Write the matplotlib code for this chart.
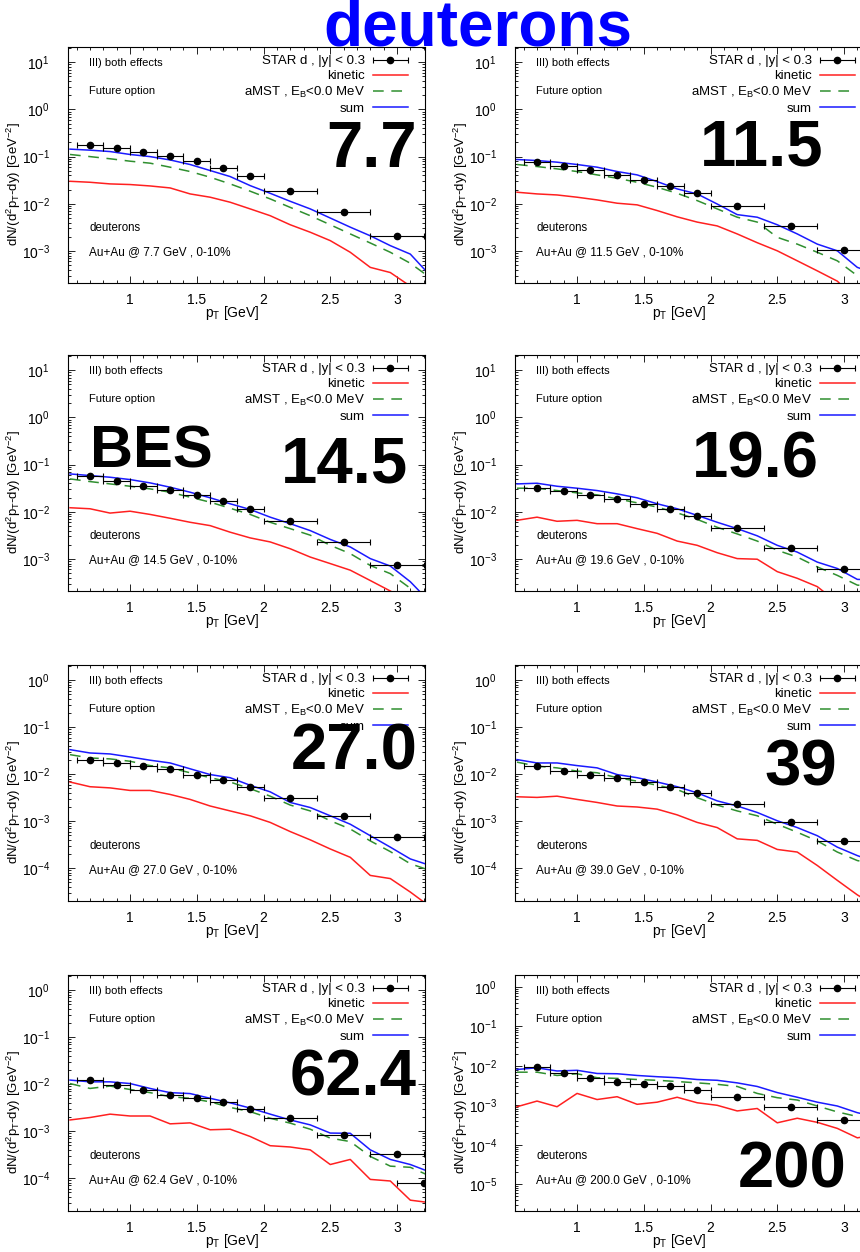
import matplotlib
matplotlib.use('Agg')
import matplotlib.pyplot as plt
import numpy as np
from matplotlib.container import ErrorbarContainer
from matplotlib.legend_handler import HandlerErrorbar
from matplotlib.ticker import MultipleLocator, LogLocator, NullFormatter, FormatStrFormatter

plt.rcParams['font.family'] = ['Liberation Sans', 'DejaVu Sans']
plt.rcParams['mathtext.fontset'] = 'custom'
plt.rcParams['mathtext.rm'] = 'Liberation Sans'
plt.rcParams['mathtext.default'] = 'regular'
plt.rcParams['axes.unicode_minus'] = False

# collision energies (one panel each)
energies = ['7.7', '11.5', '14.5', '19.6', '27.0', '39', '62.4', '200']
energy_text = ['7.7', '11.5', '14.5', '19.6', '27.0', '39.0', '62.4', '200.0']

# model curves, pT grid [GeV]
pt_model = [0.55, 0.7, 0.85, 1.0, 1.15, 1.3, 1.45, 1.6, 1.75, 1.9, 2.05, 2.2,
            2.35, 2.5, 2.65, 2.8, 2.95, 3.1, 3.25]

# STAR data points, pT centres and half bin widths
pt_data = [0.7, 0.9, 1.1, 1.3, 1.5, 1.7, 1.9, 2.2, 2.6, 3.0, 3.2]
pt_data_err = [0.1, 0.1, 0.1, 0.1, 0.1, 0.1, 0.1, 0.2, 0.2, 0.2, 0.2]

star_d = {
    '7.7': [0.179, 0.152, 0.125, 0.101, 0.079, 0.057, 0.038, 0.0191, 0.00687, 0.0021],
    '11.5': [0.076, 0.0626, 0.0532, 0.0417, 0.0327, 0.0243, 0.017, 0.0090, 0.00333, 0.00105],
    '14.5': [0.0586, 0.0445, 0.036, 0.0292, 0.0229, 0.0168, 0.0116, 0.00625, 0.00229, 0.00076],
    '19.6': [0.0316, 0.0273, 0.0229, 0.0188, 0.0148, 0.0112, 0.008, 0.0045, 0.00173, 0.0006],
    '27.0': [0.0198, 0.0173, 0.0148, 0.0126, 0.0098, 0.0075, 0.0054, 0.00316, 0.0013, 0.00045],
    '39': [0.0152, 0.0116, 0.0098, 0.0084, 0.0069, 0.0053, 0.0039, 0.00236, 0.00097, 0.00037],
    '62.4': [0.0122, 0.0098, 0.0075, 0.006, 0.0051, 0.0042, 0.0029, 0.00188, 0.00084, 0.00033, 0.000077],
    '200': [0.0093, 0.0064, 0.005, 0.004, 0.0035, 0.0030, 0.00243, 0.00165, 0.0009, 0.00042],
}

kinetic = {
    '7.7': [0.030, 0.0286, 0.0264, 0.0256, 0.0239, 0.0217, 0.0162, 0.0138, 0.0108, 0.0078,
            0.0056, 0.0036, 0.0025, 0.00166, 0.00094, 0.00045, 0.00035, 0.00018, 0.0001],
    '11.5': [0.0176, 0.0162, 0.0154, 0.0138, 0.0121, 0.0103, 0.0095, 0.0072, 0.0053, 0.0041,
             0.0034, 0.0023, 0.0015, 0.00101, 0.00062, 0.00038, 0.00023, 0.00009, 0.00005],
    '14.5': [0.0122, 0.0116, 0.0094, 0.0103, 0.0088, 0.0073, 0.0060, 0.0051, 0.0037, 0.0028,
             0.0023, 0.00165, 0.0011, 0.0008, 0.00058, 0.00035, 0.00021, 0.00012, 0.00008],
    '19.6': [0.0066, 0.0077, 0.0063, 0.0066, 0.0056, 0.0056, 0.0044, 0.0035, 0.0024, 0.00195,
             0.00136, 0.00102, 0.00099, 0.00054, 0.00039, 0.00026, 0.00012, 0.00008, 0.00005],
    '27.0': [0.0068, 0.0054, 0.0051, 0.0045, 0.0045, 0.0037, 0.0029, 0.0021, 0.00165, 0.0013,
             0.00094, 0.0006, 0.0004, 0.000256, 0.00017, 0.00007, 0.00006, 0.000031, 0.000015],
    '39': [0.0033, 0.0032, 0.0034, 0.0029, 0.0025, 0.0021, 0.002, 0.0018, 0.00136, 0.00094,
           0.00073, 0.00042, 0.00039, 0.00025, 0.00022, 0.000114, 0.000055, 0.000027, 0.000015],
    '62.4': [0.00173, 0.00195, 0.0023, 0.0021, 0.0021, 0.00143, 0.0015, 0.00107, 0.0011, 0.00077,
             0.00049, 0.00046, 0.0004, 0.000195, 0.00025, 0.000094, 0.000087, 0.000034, 0.00003],
    '200': [0.00092, 0.00128, 0.00092, 0.002, 0.0014, 0.00165, 0.00106, 0.0012, 0.0016, 0.00116,
            0.001, 0.00072, 0.00083, 0.00036, 0.00047, 0.00037, 0.00026, 0.00015, 0.00018],
}

amst = {
    '7.7': [0.111, 0.100, 0.090, 0.080, 0.0726, 0.0597, 0.0483, 0.0366, 0.0264, 0.0185,
            0.0127, 0.0084, 0.0056, 0.0036, 0.0023, 0.00148, 0.00094, 0.00055, 0.00027],
    '11.5': [0.068, 0.0616, 0.055, 0.0483, 0.041, 0.0348, 0.0286, 0.0224, 0.0167, 0.0117,
             0.0078, 0.0052, 0.0041, 0.00195, 0.0014, 0.00094, 0.00062, 0.0003, 0.00023],
    '14.5': [0.0498, 0.0437, 0.039, 0.0348, 0.0306, 0.026, 0.0204, 0.016, 0.0119, 0.0088,
             0.0060, 0.0044, 0.0032, 0.00195, 0.0013, 0.00073, 0.00049, 0.00024, 0.0001],
    '19.6': [0.0316, 0.0316, 0.0282, 0.0252, 0.0229, 0.0188, 0.0155, 0.0126, 0.0095, 0.0069,
             0.0047, 0.0034, 0.0024, 0.00153, 0.0011, 0.00068, 0.00045, 0.00028, 0.00026],
    '27.0': [0.026, 0.0221, 0.0211, 0.0188, 0.0152, 0.0136, 0.0107, 0.0084, 0.0068, 0.0049,
             0.0034, 0.0022, 0.00165, 0.00102, 0.00068, 0.00038, 0.000225, 0.000124, 0.000089],
    '39': [0.018, 0.0148, 0.0136, 0.0116, 0.0107, 0.0084, 0.0071, 0.0058, 0.0047, 0.00316,
           0.0022, 0.00165, 0.0013, 0.00086, 0.00058, 0.00038, 0.00022, 0.000145, 0.00012],
    '62.4': [0.0103, 0.0081, 0.0091, 0.0077, 0.0066, 0.0054, 0.005, 0.0042, 0.0032, 0.0026,
             0.00188, 0.00148, 0.0011, 0.00071, 0.0006, 0.00029, 0.00018, 0.00017, 0.00011],
    '200': [0.0069, 0.0069, 0.0057, 0.0063, 0.005, 0.0048, 0.0045, 0.0043, 0.004, 0.0037,
            0.0034, 0.003, 0.002, 0.00156, 0.00136, 0.00096, 0.00068, 0.00052, 0.00045],
}

total = {
    '7.7': [0.144, 0.137, 0.128, 0.111, 0.100, 0.085, 0.068, 0.0507, 0.0378, 0.0243,
            0.0167, 0.0113, 0.0078, 0.0050, 0.0032, 0.0021, 0.0013, 0.00086, 0.0003],
    '11.5': [0.0868, 0.0826, 0.0762, 0.068, 0.0597, 0.0483, 0.041, 0.0296, 0.0207, 0.0162,
             0.0099, 0.0059, 0.0052, 0.0036, 0.0023, 0.0014, 0.00101, 0.00045, 0.00032],
    '14.5': [0.0635, 0.0586, 0.054, 0.0482, 0.041, 0.0332, 0.026, 0.0198, 0.0148, 0.0112,
             0.0077, 0.0056, 0.0040, 0.0026, 0.0018, 0.00102, 0.00071, 0.00033, 0.00012],
    '19.6': [0.039, 0.0403, 0.0348, 0.0316, 0.0282, 0.024, 0.0198, 0.0148, 0.0116, 0.0084,
             0.006, 0.0044, 0.0031, 0.00195, 0.0014, 0.00086, 0.00063, 0.00037, 0.00036],
    '27.0': [0.0332, 0.0282, 0.0269, 0.0232, 0.0198, 0.0173, 0.013, 0.0098, 0.0084, 0.0058,
             0.0042, 0.0025, 0.00195, 0.0013, 0.00086, 0.00049, 0.00028, 0.000157, 0.000114],
    '39': [0.0204, 0.0173, 0.0173, 0.0152, 0.0136, 0.0098, 0.0084, 0.0068, 0.0054, 0.004,
           0.0027, 0.0021, 0.00153, 0.00102, 0.00073, 0.00049, 0.00028, 0.000185, 0.00013],
    '62.4': [0.0122, 0.0112, 0.0112, 0.0103, 0.0081, 0.0066, 0.0063, 0.005, 0.004, 0.0031,
             0.0023, 0.00173, 0.00136, 0.00091, 0.0009, 0.0004, 0.00025, 0.000195, 0.000134],
    '200': [0.0081, 0.0089, 0.0074, 0.0077, 0.0064, 0.0063, 0.0057, 0.0053, 0.005, 0.0045,
            0.0043, 0.0037, 0.003, 0.0021, 0.0016, 0.0012, 0.00096, 0.00065, 0.0005],
}

y_limits = {
    '7.7': (2.1e-4, 21), '11.5': (2.1e-4, 21), '14.5': (2.1e-4, 21), '19.6': (2.1e-4, 21),
    '27.0': (2e-5, 2.1), '39': (2e-5, 2.1), '62.4': (2e-5, 2.1), '200': (2.1e-6, 2.0),
}

# big energy labels: right edge / baseline in pixels
big_label_pos = {
    '7.7': (417, 167), '11.5': (823, 166), '14.5': (408, 482), '19.6': (819, 478),
    '27.0': (418, 770), '39': (837, 785), '62.4': (417, 1095), '200': (847, 1188),
}

W, H = 860, 1252
fig = plt.figure(figsize=(W / 100, H / 100), dpi=100)

lefts = [68, 515]
tops = [47, 355, 665, 975]
aw, ah = 357, 236

for i, e in enumerate(energies):
    r, c = divmod(i, 2)
    ax = fig.add_axes([lefts[c] / W, 1 - (tops[r] + ah) / H, aw / W, ah / H])

    l_kin, = ax.plot(pt_model, kinetic[e], color='#ff2020', lw=1.1)
    l_amst, = ax.plot(pt_model, amst[e], color='#2f8f2f', lw=1.1, dashes=(7, 5))
    l_sum, = ax.plot(pt_model, total[e], color='#1a1aff', lw=1.1)
    n = len(star_d[e])
    eb = ax.errorbar(pt_data[:n], star_d[e], xerr=pt_data_err[:n], fmt='o', color='black',
                     ms=4.5, capsize=2, elinewidth=0.8, capthick=0.8, zorder=5)

    ax.set_yscale('log')
    ax.set_xlim(0.535, 3.21)
    ax.set_ylim(*y_limits[e])

    ax.xaxis.set_major_locator(MultipleLocator(0.5))
    ax.xaxis.set_minor_locator(MultipleLocator(0.1))
    ax.xaxis.set_major_formatter(FormatStrFormatter('%g'))
    ax.yaxis.set_major_locator(LogLocator(base=10, numticks=20))
    ax.yaxis.set_minor_locator(LogLocator(base=10, subs=np.arange(2, 10), numticks=20))
    ax.yaxis.set_minor_formatter(NullFormatter())
    ax.tick_params(which='both', direction='in', top=True, right=True, width=0.6)
    ax.tick_params(which='major', length=5, labelsize=10)
    ax.tick_params(axis='y', which='major', pad=13)
    ax.tick_params(axis='x', which='major', pad=7)
    ax.tick_params(which='minor', length=2.5)
    for s in ax.spines.values():
        s.set_linewidth(0.8)

    ax.set_xlabel('p$_T$ [GeV]', fontsize=10)
    ax.xaxis.set_label_coords(0.46, -0.09)
    ax.set_ylabel('dN/(d$^2$p$_T$-dy) [GeV$^{-2}$]', fontsize=9.5)
    ax.yaxis.set_label_coords(-0.125, 0.42)

    ax.text(0.059, 0.933, 'III) both effects', transform=ax.transAxes, fontsize=8, va='center')
    ax.text(0.059, 0.815, 'Future option', transform=ax.transAxes, fontsize=8, va='center')
    ax.text(0.059, 0.233, 'deuterons', transform=ax.transAxes, fontsize=8.3, va='center')
    ax.text(0.059, 0.133, f'Au+Au @ {energy_text[i]} GeV , 0-10%', transform=ax.transAxes,
            fontsize=8.5, va='center')

    ax.legend([eb, l_kin, l_amst, l_sum],
              ['STAR d , |y| < 0.3', 'kinetic', 'aMST , E$_B$<0.0 MeV', 'sum'],
              loc='upper right', bbox_to_anchor=(0.952, 0.965), frameon=False,
              fontsize=9.5, markerfirst=False, handlelength=2.65, handletextpad=0.6,
              labelspacing=0.2, borderpad=0, borderaxespad=0,
              handler_map={ErrorbarContainer: HandlerErrorbar(xerr_size=1.3)})

    x, y = big_label_pos[e]
    fig.text(x / W, 1 - y / H, e, ha='right', va='baseline', fontsize=47,
             fontweight='bold', color='black', zorder=10)

fig.text(90 / W, 1 - 467 / H, 'BES', ha='left', va='baseline', fontsize=43,
         fontweight='bold', color='black', zorder=10)
fig.text(478 / W, 1 - 45 / H, 'deuterons', ha='center', va='baseline', fontsize=46,
         fontweight='bold', color='#0000ff', zorder=10)

fig.savefig('out.png', dpi=100)
